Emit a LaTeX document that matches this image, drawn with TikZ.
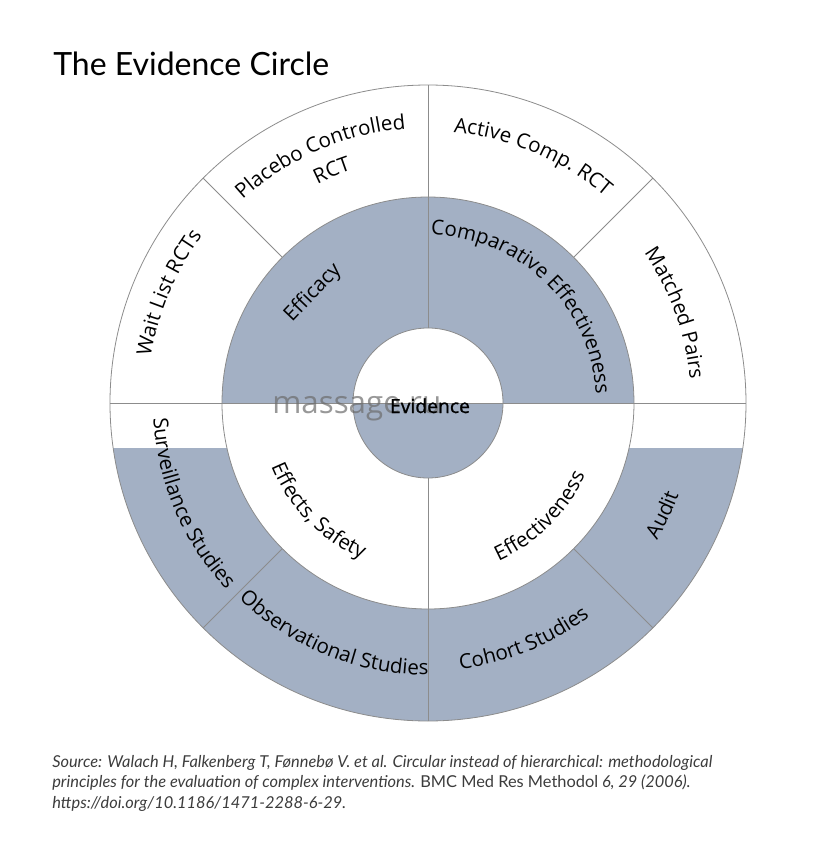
\documentclass[tikz,border=0pt]{standalone}
\usepackage{fontspec}
\setmainfont{Lato}
\newfontfamily\ringfont{Open Sans}
\newfontfamily\evfont{Open Sans}[FakeBold=1]
\usetikzlibrary{decorations.text}

\definecolor{ringblue}{RGB}{163,176,196}
\definecolor{ringline}{RGB}{140,140,140}
\definecolor{sourcegray}{RGB}{60,60,60}

\newcommand{\lbl}{\ringfont\fontsize{15.4pt}{18pt}\selectfont}

\tikzset{
  divider/.style={draw=ringline, line width=0.6pt},
  arclabel/.style={decorate, decoration={text along path, text align=center, text={|\lbl|#1}}},
}

\begin{document}
\begin{tikzpicture}[x=0.75pt, y=0.75pt]
  \useasboundingbox (-428,-448) rectangle (391,403);
  \coordinate (O) at (0,0);

  % Shaded parts
  \fill[ringblue] (0:206) arc[start angle=0, end angle=180, radius=206] -- (180:75) arc[start angle=180, end angle=0, radius=75] -- cycle;
  \fill[ringblue] (180:75) arc[start angle=180, end angle=360, radius=75] -- cycle;
  \begin{scope}
    \clip (-330,-45) rectangle (330,-330);
    \fill[ringblue] (180:318) arc[start angle=180, end angle=360, radius=318] -- (0:206) arc[start angle=360, end angle=180, radius=206] -- cycle;
  \end{scope}

  % Circles
  \draw[divider] (O) circle[radius=318];
  \draw[divider] (O) circle[radius=206];
  \draw[divider] (O) circle[radius=75];

  % Dividing lines
  \draw[divider] (180:318) -- (0:318);
  \draw[divider] (90:75) -- (90:318);
  \draw[divider] (270:75) -- (270:318);
  \foreach \a in {45,135,225,315}
    \draw[divider] (\a:206) -- (\a:318);

  % Outer ring, upper half
  \path[arclabel={Placebo Controlled}] (148.5:275) arc[start angle=148.5, end angle=78.5, radius=275];
  \path[arclabel={RCT}] (147.5:245) arc[start angle=147.5, end angle=77.5, radius=245];
  \path[arclabel={Active Comp. RCT}] (102:272) arc[start angle=102, end angle=32, radius=272];
  \path[arclabel={Wait List RCTs}] (192:281) arc[start angle=192, end angle=122, radius=281];
  \path[arclabel={Matched Pairs}] (55:263) arc[start angle=55, end angle=-15, radius=263];

  % Outer ring, lower half
  \path[arclabel={Surveillance Studies}] (168:275) arc[start angle=168, end angle=238, radius=275];
  \path[arclabel={Observational Studies}] (213:272) arc[start angle=213, end angle=283, radius=272];
  \path[arclabel={Cohort Studies}] (257:268) arc[start angle=257, end angle=327, radius=268];
  \path[arclabel={Audit}] (299.5:267) arc[start angle=299.5, end angle=369.5, radius=267];

  % Middle ring
  \node[rotate=46.3, font=\lbl] (efficacy) at (136.3:159) {Efficacy};
  \path[arclabel={Comparative Effectiveness}] (106:168) arc[start angle=106, end angle=-14, radius=168];
  \path[arclabel={Effects, Safety}] (164.5:169) arc[start angle=164.5, end angle=284.5, radius=169];
  \path[arclabel={Effectiveness}] (254.7:173) arc[start angle=254.7, end angle=374.7, radius=173];

  % Centre
  \node[anchor=base west, inner sep=0, text=gray!85!black, opacity=0.7, font=\ringfont\fontsize{23.5pt}{28pt}\selectfont] (mark) at (-156,-10) {massage.ru};
  \node[anchor=base, inner sep=0, font=\evfont\fontsize{14.5pt}{17pt}\selectfont] (evidence) at (2,-10) {Evidence};

  % Title and source
  \node[anchor=base west, inner sep=0, font=\fontsize{24pt}{28pt}\selectfont] (title) at (-375,328) {The Evidence Circle};
  \node[anchor=north west, inner sep=0, align=left, text=sourcegray, font=\fontsize{12.3pt}{15.4pt}\selectfont\itshape] (source) at (-376,-352)
    {Source: Walach H, Falkenberg T, Fønnebø V. et al. Circular instead of hierarchical: methodological\\
     principles for the evaluation of complex interventions. {\upshape BMC Med Res Methodol} 6, 29 (2006).\\
     https://doi.org/10.1186/1471-2288-6-29.};
\end{tikzpicture}
\end{document}
